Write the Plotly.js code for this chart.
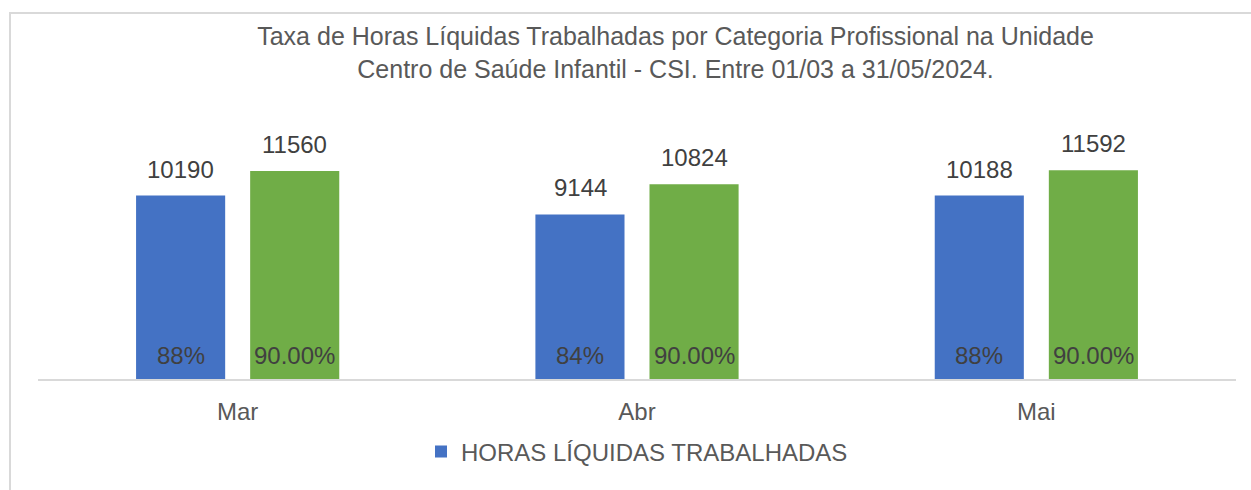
<!DOCTYPE html>
<html>
<head>
<meta charset="utf-8">
<script src="https://cdn.plot.ly/plotly-3.0.1.min.js"></script>
<style>
  html, body { margin: 0; padding: 0; background: #ffffff; }
  #frame { position: absolute; left: 9px; top: 12px; width: 1300px; height: 520px;
           border-left: 2px solid #d9d9d9; border-top: 2px solid #d9d9d9; box-sizing: border-box; }
  #chart { position: absolute; left: 0; top: 0; width: 1251px; height: 490px; }
</style>
</head>
<body>
<div id="frame"></div>
<div id="chart"></div>
<script>
const months = ['Mar', 'Abr', 'Mai'];
const horasLiquidas = [10190, 9144, 10188];
const horasOutraSerie = [11560, 10824, 11592];
const taxaLiquidas = ['88%', '84%', '88%'];
const taxaOutraSerie = ['90.00%', '90.00%', '90.00%'];
const nomeSerie1 = 'HORAS LÍQUIDAS TRABALHADAS';
const nomeSerie2 = 'HORAS PREVISTAS';

const blue = '#4472C4';
const green = '#70AD47';
const font = 'Liberation Sans, Arial, sans-serif';

const traces = [
  { type: 'bar', x: months, y: horasLiquidas, name: nomeSerie1,
    marker: { color: blue }, hoverinfo: 'skip', showlegend: true },
  { type: 'bar', x: months, y: horasOutraSerie, name: nomeSerie2,
    marker: { color: green }, hoverinfo: 'skip', showlegend: false }
];

const shift = 57;
const annotations = [];
months.forEach((m, i) => {
  [[horasLiquidas, taxaLiquidas, -shift], [horasOutraSerie, taxaOutraSerie, shift]].forEach(([vals, pct, xs]) => {
    annotations.push({ x: m, y: vals[i], xref: 'x', yref: 'y', text: String(vals[i]),
      showarrow: false, xshift: xs, yshift: 11, yanchor: 'bottom',
      font: { family: font, size: 24, color: '#404040' } });
    annotations.push({ x: m, y: 0, xref: 'x', yref: 'y', text: pct[i],
      showarrow: false, xshift: xs, yshift: 8, yanchor: 'bottom',
      font: { family: font, size: 24, color: '#404040' } });
  });
});

const layout = {
  width: 1251, height: 490,
  paper_bgcolor: 'rgba(0,0,0,0)', plot_bgcolor: 'rgba(0,0,0,0)',
  margin: { l: 38, r: 15, t: 109, b: 111 },
  barmode: 'group', bargap: 0.4286, bargroupgap: 0.219,
  title: {
    text: 'Taxa de Horas Líquidas Trabalhadas por Categoria Profissional na Unidade<br>Centro de Saúde Infantil - CSI. Entre 01/03 a 31/05/2024.',
    font: { family: font, size: 25, color: '#595959' },
    x: 0.54, xref: 'container', xanchor: 'center',
    y: 0.908, yref: 'container', yanchor: 'top'
  },
  xaxis: {
    showline: true, linecolor: '#d9d9d9', linewidth: 2,
    ticks: '', ticklabelstandoff: 10,
    tickfont: { family: font, size: 24, color: '#595959' },
    showgrid: false, zeroline: false, fixedrange: true
  },
  yaxis: {
    range: [0, 15000], visible: false, showgrid: false, zeroline: false, fixedrange: true
  },
  showlegend: true,
  legend: {
    orientation: 'h', x: 0.5, xanchor: 'center', xref: 'paper',
    y: -0.27, yanchor: 'middle', itemwidth: 30,
    font: { family: font, size: 24, color: '#595959' }
  },
  annotations: annotations
};

Plotly.newPlot('chart', traces, layout, { staticPlot: true, displayModeBar: false });
</script>
</body>
</html>
